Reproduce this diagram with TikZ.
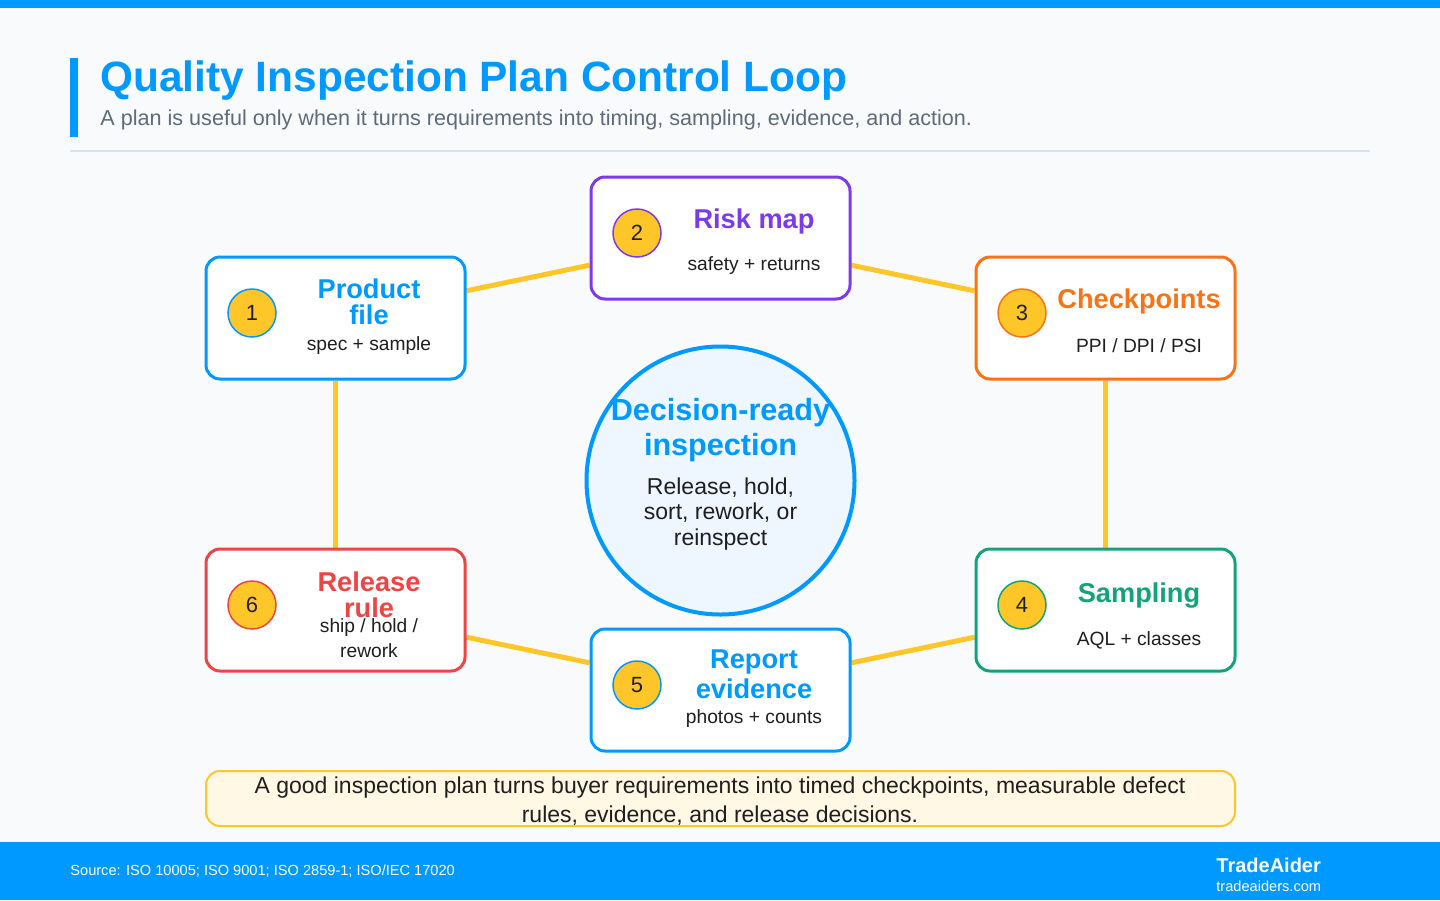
\documentclass[tikz,border=0pt]{standalone}
\usepackage{fontspec}
\setmainfont{Liberation Sans}
\usetikzlibrary{positioning}
\usetikzlibrary{backgrounds}

\definecolor{brandblue}{HTML}{0099FF}
\definecolor{riskpurple}{HTML}{7C3AED}
\definecolor{checkorange}{HTML}{F97316}
\definecolor{samplegreen}{HTML}{13A37A}
\definecolor{rulered}{HTML}{EF4444}
\definecolor{loopgold}{HTML}{FFC629}
\definecolor{pagebg}{HTML}{F8FAFC}
\definecolor{subgray}{HTML}{5F6B7A}
\definecolor{rulegray}{HTML}{D3E3F0}
\definecolor{hubfill}{HTML}{EEF6FF}
\definecolor{notefill}{HTML}{FFF8E4}
\definecolor{inkdark}{HTML}{1F1F1F}

\tikzset{
  stagebox/.style={draw=#1, line width=1.5pt, rounded corners=7pt, fill=white,
    minimum width=129.5pt, minimum height=61pt, inner sep=0pt},
  badge/.style={circle, draw=#1, line width=0.75pt, fill=loopgold, text=inkdark,
    minimum size=24pt, inner sep=0pt, font=\fontsize{11}{13}\selectfont},
  stagetitle/.style={text=#1, font=\bfseries\fontsize{13.6}{13}\selectfont,
    align=center, anchor=base, inner sep=0pt},
  stagesub/.style={text=inkdark, font=\fontsize{9.6}{12.5}\selectfont,
    align=center, anchor=base, inner sep=0pt},
  loopline/.style={draw=loopgold, line width=2.5pt},
}

\begin{document}
\begin{tikzpicture}[x=0.5pt,y=-0.5pt]
	\useasboundingbox (0,0) rectangle (1440,900);
	\begin{scope}[on background layer]
	\fill[pagebg] (0,0) rectangle (1440,900);
	\end{scope}
	\fill[brandblue] (0,0) rectangle (1440,8);
	\fill[brandblue] (70,58) rectangle (78,137);
	\node[anchor=base west, inner sep=0pt, text=brandblue, font=\bfseries\fontsize{21.2}{25}\selectfont] (title) at (100,91) {Quality Inspection Plan Control Loop};
	\node[anchor=base west, inner sep=0pt, text=subgray, font=\fontsize{10.8}{12}\selectfont] (subtitle) at (100,125) {A plan is useful only when it turns requirements into timing, sampling, evidence, and action.};
	\draw[rulegray, line width=1pt] (70,151) -- (1370,151);

	\node[stagebox=brandblue] (product) at (335.5,318) {};
	\node[stagebox=riskpurple] (risk) at (720.5,238) {};
	\node[stagebox=checkorange] (check) at (1105.5,318) {};
	\node[stagebox=samplegreen] (sampling) at (1105.5,610) {};
	\node[stagebox=brandblue] (report) at (720.5,690) {};
	\node[stagebox=rulered] (release) at (335.5,610) {};

	\begin{scope}[on background layer]
	\draw[loopline] (product) -- (risk);
	\draw[loopline] (risk) -- (check);
	\draw[loopline] (check) -- (sampling);
	\draw[loopline] (sampling) -- (report);
	\draw[loopline] (report) -- (release);
	\draw[loopline] (release) -- (product);
	\end{scope}

	\node[badge=brandblue] (n1) at (252,313) {1};
	\node[badge=riskpurple] (n2) at (637,233) {2};
	\node[badge=checkorange] (n3) at (1022,313) {3};
	\node[badge=samplegreen] (n4) at (1022,605) {4};
	\node[badge=brandblue] (n5) at (637,685) {5};
	\node[badge=rulered] (n6) at (252,605) {6};

	\node[stagetitle=brandblue] (producttitle) at (369,324) {Product\\file};
	\node[stagesub] (productsub) at (369,350) {spec + sample};
	\node[stagetitle=riskpurple] (risktitle) at (754,228) {Risk map};
	\node[stagesub] (risksub) at (754,270) {safety + returns};
	\node[stagetitle=checkorange] (checktitle) at (1139,308) {Checkpoints};
	\node[stagesub] (checksub) at (1139,352) {PPI / DPI / PSI};
	\node[stagetitle=samplegreen] (samplingtitle) at (1139,602) {Sampling};
	\node[stagesub] (samplingsub) at (1139,645) {AQL + classes};
	\node[stagetitle=brandblue, font=\bfseries\fontsize{13.6}{15}\selectfont] (reporttitle) at (754,698) {Report\\evidence};
	\node[stagesub] (reportsub) at (754,723) {photos + counts};
	\node[stagetitle=rulered] (releasetitle) at (369,617) {Release\\rule};
	\node[stagesub] (releasesub) at (369,657) {ship / hold /\\rework};

	\node[circle, draw=brandblue, line width=2pt, fill=hubfill, minimum size=134pt, inner sep=0pt] (hub) at (720.5,480.5) {};
	\node[anchor=base, align=center, inner sep=0pt, text=brandblue, font=\bfseries\fontsize{15.3}{17.5}\selectfont] (hubtitle) at (720.5,455) {Decision-ready\\inspection};
	\node[anchor=base, align=center, inner sep=0pt, text=inkdark, font=\fontsize{11.5}{12.75}\selectfont] (hubtext) at (720.5,545) {Release, hold,\\sort, rework, or\\reinspect};

	\node[draw=loopgold, line width=1pt, fill=notefill, rounded corners=7pt, minimum width=514.5pt, minimum height=27.5pt, inner sep=0pt] (note) at (720.5,798.5) {};
	\node[anchor=base, align=center, inner sep=0pt, text=inkdark, font=\fontsize{11.5}{14.5}\selectfont] (notetext) at (720,822) {A good inspection plan turns buyer requirements into timed checkpoints, measurable defect\\rules, evidence, and release decisions.};

	\fill[brandblue] (0,842) rectangle (1440,900);
	\node[anchor=base west, inner sep=0pt, text=white, font=\fontsize{7.3}{9}\selectfont] (source) at (70,875) {Source: ISO 10005; ISO 9001; ISO 2859-1; ISO/IEC 17020};
	\node[anchor=base west, inner sep=0pt, text=white, font=\bfseries\fontsize{10}{12}\selectfont] (brand) at (1216,872) {TradeAider};
	\node[anchor=base west, inner sep=0pt, text=white, font=\fontsize{7.3}{9}\selectfont] (site) at (1216,891) {tradeaiders.com};
\end{tikzpicture}
\end{document}
